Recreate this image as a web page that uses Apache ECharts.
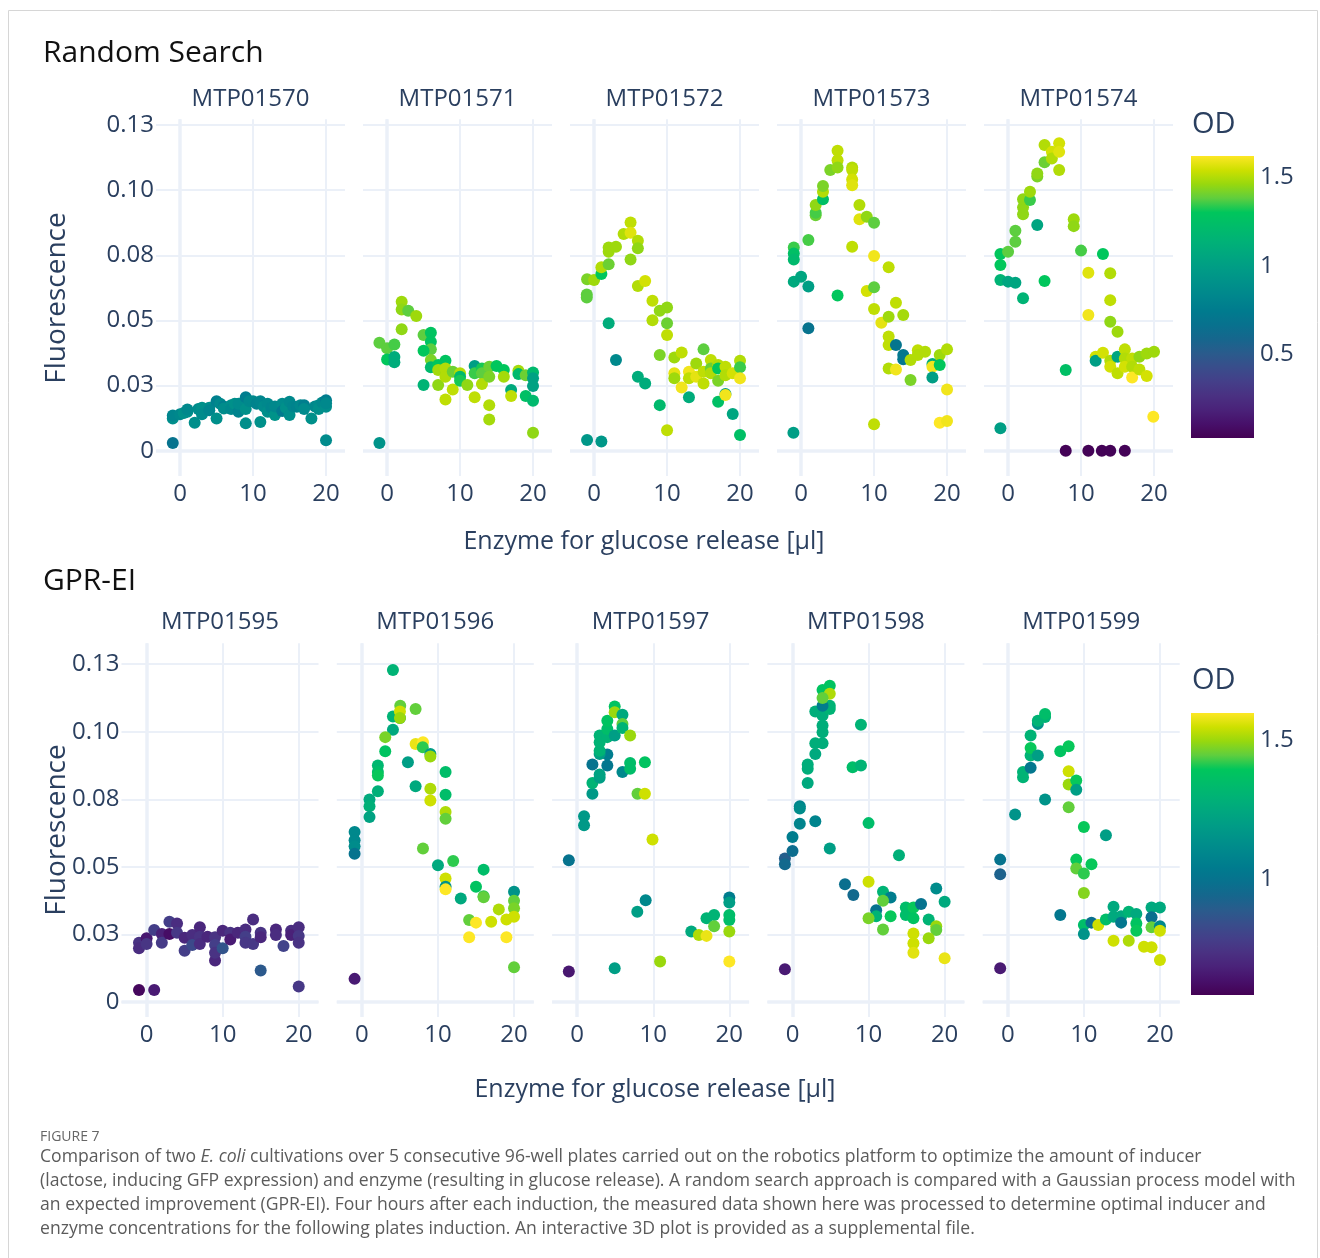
<!DOCTYPE html>
<html>
<head>
<meta charset="utf-8">
<title>Random Search vs GPR-EI</title>
<script src="https://cdn.jsdelivr.net/npm/echarts/dist/echarts.min.js"></script>
<style>
  html, body { margin: 0; padding: 0; background: #ffffff; }
  #chart { width: 1320px; height: 1258px; }
</style>
</head>
<body>
<div id="chart"></div>
<script>
// ---- tick labels and plate names ----
const rsPlates = ['MTP01570', 'MTP01571', 'MTP01572', 'MTP01573', 'MTP01574'];
const gpPlates = ['MTP01595', 'MTP01596', 'MTP01597', 'MTP01598', 'MTP01599'];
const xTickValues = [0, 10, 20];
const yTickValues = [0, 0.025, 0.05, 0.075, 0.1, 0.125];
const yTickLabels = ['0', '0.03', '0.05', '0.08', '0.10', '0.13'];
const odTicksRS = [0.5, 1, 1.5];
const odTicksGP = [1, 1.5];

// ---- measurements: [enzyme µl, fluorescence, OD] ----
const mtp01570 = [
  [-1, 0.003, 0.68], [20, 0.004, 0.86],
  [-1, 0.0124, 0.88], [-1, 0.0135, 0.82], [0, 0.014, 0.84], [0.5, 0.0145, 0.9], [1, 0.015, 0.89], [1, 0.0158, 0.84],
  [2, 0.0107, 0.88], [2.5, 0.016, 0.86], [3, 0.0165, 0.9], [3, 0.014, 0.86], [4, 0.0165, 0.88], [4, 0.0155, 0.82],
  [5, 0.019, 0.78], [5, 0.0124, 0.89], [5.5, 0.018, 0.84], [6, 0.017, 0.77], [6, 0.0162, 0.87], [7, 0.0175, 0.88],
  [7, 0.016, 0.84], [7.5, 0.018, 0.9], [8, 0.015, 0.8], [8, 0.018, 0.86], [9, 0.0205, 0.76], [9, 0.016, 0.9],
  [9, 0.0105, 0.88], [9.5, 0.019, 0.84], [10, 0.019, 0.84], [10.5, 0.018, 0.8], [11, 0.019, 0.82], [11, 0.011, 0.9],
  [11.5, 0.017, 0.86], [12, 0.018, 0.84], [12, 0.015, 0.88], [12.5, 0.0165, 0.82], [13, 0.0137, 0.92], [13, 0.017, 0.84],
  [14, 0.018, 0.86], [14, 0.0152, 0.74], [14.5, 0.0165, 0.9], [15, 0.0188, 0.84], [15, 0.0137, 0.88], [15.5, 0.017, 0.82],
  [16, 0.0169, 0.8], [16.5, 0.0175, 0.84], [17, 0.0175, 0.77], [17, 0.016, 0.86], [18, 0.0124, 0.9], [18.5, 0.017, 0.84],
  [19, 0.0175, 0.86], [19, 0.016, 0.89], [19.5, 0.0185, 0.84], [20, 0.0194, 0.75], [20, 0.0169, 0.88], [20, 0.0182, 0.84]
];
const mtp01571 = [
  [-1.05, 0.003, 0.92],
  [2, 0.0572, 1.47], [2, 0.0542, 1.45], [2.9, 0.0537, 1.38], [4, 0.0517, 1.47], [2, 0.0466, 1.45],
  [-1.05, 0.0414, 1.38], [0, 0.0393, 1.38], [1, 0.0408, 1.36], [0, 0.035, 1.3], [1, 0.036, 1.1], [1, 0.034, 1.1],
  [5, 0.0444, 1.38], [6, 0.0453, 1.28], [6, 0.0418, 1.28], [6, 0.0389, 1.38], [5, 0.0384, 1.3], [6, 0.0348, 1.42],
  [6, 0.032, 1.2], [5, 0.0252, 1.15], [7, 0.0329, 1.3], [7, 0.031, 1.48], [7, 0.0252, 1.45], [8, 0.0345, 1.28],
  [8, 0.0316, 1.5], [8, 0.0284, 1.5], [8, 0.0197, 1.52], [9, 0.0303, 1.4], [9, 0.0235, 1.52], [10, 0.0297, 1.5],
  [10, 0.0284, 1.2], [10, 0.0269, 1.32], [11, 0.0252, 1.45], [12, 0.0325, 1.0], [12, 0.0297, 1.35], [12, 0.0205, 1.52],
  [13, 0.0316, 1.32], [13, 0.0297, 1.38], [13, 0.0256, 1.5], [14, 0.0322, 1.4], [14, 0.0284, 1.42], [14, 0.0175, 1.5],
  [14, 0.012, 1.48], [15, 0.0325, 1.3], [16, 0.031, 1.3], [16, 0.0284, 1.48], [17, 0.0233, 1.08], [17, 0.021, 1.52],
  [18, 0.0307, 1.48], [18, 0.0294, 1.2], [19, 0.029, 1.4], [19, 0.021, 1.25], [20, 0.03, 1.2], [20, 0.0278, 1.02],
  [20, 0.0248, 1.02], [20, 0.0192, 1.2], [20, 0.0069, 1.45]
];
const mtp01572 = [
  [-0.96, 0.0041, 0.95], [1, 0.0035, 0.95], [2, 0.0489, 1.1], [3, 0.0348, 0.85], [6, 0.0284, 1.1], [7, 0.0258, 1.1],
  [9, 0.0175, 1.2], [10, 0.0079, 1.52],
  [-0.96, 0.0658, 1.42], [-1, 0.06, 1.38], [-1, 0.0588, 1.38], [0, 0.0655, 1.47], [1, 0.0678, 1.3], [1, 0.0704, 1.5],
  [2, 0.0716, 1.4], [2, 0.0764, 1.47], [2, 0.078, 1.47], [3, 0.0783, 1.47], [4.05, 0.0832, 1.5], [5, 0.0876, 1.52],
  [5, 0.0837, 1.57], [6, 0.0806, 1.5], [6, 0.0777, 1.45], [5, 0.0734, 1.45], [6, 0.0632, 1.5], [7, 0.0651, 1.55],
  [8, 0.0576, 1.52], [8, 0.0501, 1.5], [9, 0.0537, 1.45], [10, 0.055, 1.45], [10, 0.0489, 1.4], [10, 0.0444, 1.52],
  [9, 0.0367, 1.42], [11, 0.0358, 1.47], [12, 0.0377, 1.52], [11, 0.0297, 1.58], [11, 0.0278, 1.47], [12, 0.0243, 1.6],
  [13, 0.0303, 1.6], [13, 0.0278, 1.52], [13, 0.0205, 1.1], [14, 0.0335, 1.47], [14, 0.0284, 1.58], [15, 0.0389, 1.38],
  [15, 0.0303, 1.52], [15, 0.0258, 1.52], [16, 0.0348, 1.52], [16, 0.0316, 1.4], [16, 0.0297, 1.5], [17, 0.0329, 1.5],
  [17, 0.0316, 1.3], [17, 0.0269, 1.42], [17, 0.0188, 1.25], [18, 0.0322, 1.52], [18, 0.029, 1.5], [18, 0.0218, 1.0],
  [18, 0.0214, 1.6], [19, 0.0297, 1.55], [19, 0.0141, 1.05], [20, 0.0345, 1.5], [20, 0.032, 1.35], [20, 0.0278, 1.6],
  [20, 0.006, 1.25]
];
const mtp01573 = [
  [-1.05, 0.0069, 1.0], [1, 0.047, 0.68], [-1, 0.0649, 1.08], [0, 0.0668, 1.05], [1, 0.063, 1.0],
  [-1, 0.078, 1.35], [-1, 0.0757, 1.25], [-1, 0.0734, 1.2], [1, 0.0809, 1.36], [2, 0.0904, 1.4], [2, 0.0913, 1.36],
  [2, 0.0943, 1.45], [3, 0.0965, 1.25], [3, 0.0994, 1.5], [3, 0.1016, 1.42], [4, 0.1077, 1.42], [5, 0.1151, 1.52],
  [5, 0.1115, 1.52], [5, 0.1087, 1.45], [7, 0.1087, 1.5], [7, 0.1077, 1.52], [7, 0.1041, 1.55], [7, 0.1019, 1.57],
  [8, 0.0943, 1.5], [8, 0.0888, 1.57], [9, 0.0898, 1.45], [10, 0.0875, 1.38], [7, 0.0783, 1.52], [5, 0.0596, 1.3],
  [10, 0.0747, 1.6], [12, 0.0704, 1.52], [9, 0.0613, 1.55], [10, 0.0627, 1.38], [10, 0.0544, 1.52], [11, 0.0491, 1.58],
  [12, 0.0514, 1.47], [13, 0.0568, 1.52], [14, 0.0521, 1.48], [12, 0.0438, 1.52], [12, 0.0406, 1.52], [13, 0.0406, 0.7],
  [14, 0.0367, 0.72], [14, 0.0351, 0.72], [15, 0.0348, 1.5], [16, 0.0386, 1.52], [16, 0.0367, 1.5], [17, 0.038, 1.5],
  [12, 0.0316, 1.5], [13, 0.0312, 1.6], [15, 0.0271, 1.42], [18, 0.0333, 1.1], [18, 0.0322, 1.6], [19, 0.0367, 1.47],
  [19, 0.0329, 1.3], [18, 0.0281, 1.0], [20, 0.0389, 1.5], [20, 0.0235, 1.6], [19, 0.0107, 1.62], [20, 0.0114, 1.6],
  [10, 0.0102, 1.52]
];
const mtp01574 = [
  [-1.05, 0.0086, 1.0], [7.9, 0, 0.04], [11, 0, 0.04], [12.85, 0, 0.04], [14, 0, 0.04], [16, 0, 0.04],
  [19.9, 0.013, 1.62], [7.9, 0.031, 1.25],
  [-1.05, 0.0655, 1.15], [0, 0.0649, 1.05], [1, 0.0645, 1.05], [2.05, 0.0585, 1.15], [5, 0.0651, 1.3], [4, 0.0866, 1.05],
  [-1.05, 0.0755, 1.3], [-1.05, 0.0713, 1.3], [0, 0.0764, 1.38], [1, 0.0802, 1.38], [1, 0.0844, 1.38], [2.05, 0.0908, 1.45],
  [2.05, 0.0934, 1.45], [2.05, 0.0965, 1.45], [3, 0.0962, 1.35], [3, 0.0994, 1.47], [4, 0.1052, 1.42], [4, 0.1064, 1.45],
  [5, 0.1107, 1.4], [5, 0.1173, 1.5], [6, 0.1147, 1.55], [6, 0.1122, 1.5], [7, 0.118, 1.55], [7, 0.1147, 1.57],
  [7, 0.1077, 1.5], [9, 0.0888, 1.47], [9, 0.0862, 1.45], [10, 0.0768, 1.36], [13, 0.0755, 1.3], [11, 0.0683, 1.57],
  [14, 0.0681, 1.5], [14, 0.0578, 1.52], [11, 0.0521, 1.6], [14, 0.0495, 1.45], [15, 0.0457, 1.47], [12, 0.0361, 1.55],
  [12, 0.0345, 1.0], [13, 0.0376, 1.55], [14, 0.0345, 1.5], [14, 0.0322, 1.55], [15, 0.0361, 1.05], [15, 0.0297, 1.52],
  [16, 0.0389, 1.52], [16, 0.0354, 1.5], [16, 0.0322, 1.55], [17, 0.0354, 1.52], [17, 0.0322, 1.5], [17, 0.0281, 1.62],
  [18, 0.0361, 1.45], [18, 0.0312, 1.52], [19, 0.0373, 1.47], [19, 0.0287, 1.55], [20, 0.038, 1.47]
];
const mtp01595 = [
  [-1, 0.0045, 0.6], [1, 0.0045, 0.66], [20, 0.0058, 0.76], [15, 0.0117, 0.88], [9, 0.0154, 0.7],
  [-1, 0.022, 0.74], [-1, 0.0199, 0.72], [0, 0.0236, 0.65], [0, 0.0215, 0.75], [1, 0.0267, 0.78], [2, 0.0252, 0.68],
  [2, 0.022, 0.77], [3, 0.0297, 0.78], [3, 0.0252, 0.62], [4, 0.0291, 0.72], [4, 0.0257, 0.76], [5, 0.0238, 0.7],
  [5, 0.019, 0.78], [6, 0.0248, 0.72], [6, 0.0211, 0.82], [7, 0.0277, 0.7], [7, 0.0242, 0.74], [7, 0.0215, 0.72],
  [8, 0.0242, 0.7], [9, 0.024, 0.74], [9, 0.0211, 0.78], [9, 0.0183, 0.74], [10, 0.0264, 0.7], [10, 0.0199, 0.86],
  [11, 0.0257, 0.74], [11, 0.0232, 0.66], [12, 0.0257, 0.7], [13, 0.0269, 0.72], [13, 0.0242, 0.78], [13, 0.022, 0.76],
  [14, 0.0306, 0.72], [14, 0.0215, 0.76], [15, 0.0257, 0.74], [15, 0.024, 0.7], [17, 0.0269, 0.7], [17, 0.0248, 0.72],
  [18, 0.0208, 0.8], [19, 0.0264, 0.72], [19, 0.0248, 0.68], [20, 0.0277, 0.72], [20, 0.0245, 0.76], [20, 0.022, 0.74]
];
const mtp01596 = [
  [-0.96, 0.0086, 0.66], [4.08, 0.1228, 1.3], [4.08, 0.1056, 1.3], [5, 0.1051, 1.2], [5.04, 0.1096, 1.45],
  [5, 0.1075, 1.55], [5, 0.1051, 1.5], [7.06, 0.1084, 1.45], [4.08, 0.1007, 1.25], [3.07, 0.098, 1.47],
  [3.07, 0.0928, 1.38], [2.1, 0.0875, 1.32], [2.1, 0.0851, 1.35], [2.1, 0.0838, 1.4], [2.1, 0.078, 1.28],
  [1, 0.0749, 1.25], [1, 0.0724, 1.28], [1, 0.0685, 1.22], [-0.96, 0.0629, 1.1], [-0.96, 0.0599, 1.1],
  [-0.96, 0.0576, 1.12], [-0.96, 0.0549, 1.0], [6.05, 0.0887, 1.2], [7.06, 0.0955, 1.58], [8.03, 0.0961, 1.6],
  [8, 0.0943, 1.42], [9, 0.0918, 1.2], [9, 0.0908, 1.5], [7.06, 0.0798, 1.25], [9, 0.0789, 1.52], [9, 0.0746, 1.55],
  [11, 0.0851, 1.35], [11, 0.0767, 1.35], [11, 0.0703, 1.52], [11, 0.0678, 1.45], [8.03, 0.0568, 1.45], [10, 0.0506, 1.25],
  [12, 0.0522, 1.42], [11, 0.0457, 1.55], [11, 0.0427, 1.15], [11, 0.0417, 1.6], [13, 0.0383, 1.25], [15, 0.0427, 1.38],
  [16, 0.049, 1.35], [16, 0.0392, 1.42], [16, 0.0388, 1.45], [14.1, 0.0304, 1.45], [15, 0.0294, 1.6], [14.1, 0.024, 1.6],
  [17, 0.0297, 1.55], [18, 0.0343, 1.52], [19, 0.0306, 1.55], [19, 0.024, 1.6], [20, 0.0408, 1.15], [20, 0.0375, 1.45],
  [20, 0.0347, 1.47], [20, 0.0316, 1.55], [20, 0.0129, 1.45]
];
const mtp01597 = [
  [-1.1, 0.0113, 0.65], [-1.1, 0.0525, 1.0], [4.93, 0.0125, 1.2], [10.9, 0.015, 1.5], [20, 0.015, 1.6],
  [7.9, 0.0334, 1.2], [9, 0.0377, 1.1], [0.9, 0.0687, 1.18], [0.9, 0.0654, 1.18], [2, 0.0771, 1.18], [2, 0.081, 1.3],
  [2.95, 0.083, 1.2], [2.95, 0.0842, 1.22], [2, 0.0879, 1.0], [3.96, 0.0875, 1.02], [3.96, 0.0916, 1.05],
  [2.95, 0.0918, 1.2], [2.95, 0.093, 1.3], [2.95, 0.0961, 1.3], [2.95, 0.0986, 1.3], [3.96, 0.098, 1.3],
  [3.96, 0.101, 1.35], [3.96, 0.1041, 1.38], [4.93, 0.1093, 1.38], [4.93, 0.1072, 1.5], [4.93, 0.0986, 1.2],
  [5.95, 0.1063, 1.25], [5.95, 0.1029, 1.45], [5.95, 0.1014, 1.3], [5.95, 0.0851, 1.1], [6.96, 0.0986, 1.5],
  [6.96, 0.0884, 1.35], [6.96, 0.0863, 1.35], [8.9, 0.0887, 1.38], [7.93, 0.0771, 1.45], [8.9, 0.0771, 1.55],
  [9.9, 0.0601, 1.55], [15, 0.0261, 1.25], [16, 0.0248, 1.52], [17, 0.0245, 1.58], [17, 0.031, 1.3], [18, 0.0322, 1.3],
  [18, 0.0281, 1.45], [20, 0.0387, 1.05], [20, 0.0368, 1.2], [20, 0.0322, 1.35], [20, 0.0304, 1.35], [20, 0.0261, 1.5]
];
const mtp01598 = [
  [-1, 0.0122, 0.66], [-1, 0.0531, 0.9], [-1, 0.051, 0.95], [0, 0.0559, 0.97], [0, 0.0611, 1.05], [0.96, 0.066, 1.08],
  [0.96, 0.0724, 1.08], [0.96, 0.0716, 1.12], [3, 0.0669, 1.08], [4.9, 0.0568, 1.2], [2, 0.081, 1.25], [2, 0.0863, 1.27],
  [2, 0.0879, 1.27], [3, 0.0918, 1.25], [3, 0.0957, 1.27], [3.95, 0.0957, 1.27], [3.95, 0.0998, 1.27], [3.95, 0.1023, 1.27],
  [3.95, 0.106, 1.27], [3, 0.1075, 1.27], [4.9, 0.1096, 1.3], [4.9, 0.1084, 1.3], [3.95, 0.1096, 1.05], [3.95, 0.1154, 1.38],
  [4.9, 0.117, 1.38], [4.9, 0.114, 1.52], [3.95, 0.1125, 1.45], [9, 0.1026, 1.3], [7.9, 0.0869, 1.35], [9, 0.0875, 1.3],
  [10, 0.0662, 1.35], [14, 0.0543, 1.28], [6.9, 0.0436, 0.98], [8, 0.0396, 0.95], [10, 0.0445, 1.55], [11.9, 0.0408, 1.3],
  [12.9, 0.0387, 1.05], [11.9, 0.0375, 1.45], [11, 0.034, 1.0], [11, 0.0318, 1.3], [10, 0.031, 1.47], [11.9, 0.0269, 1.45],
  [12.9, 0.0318, 1.4], [14.9, 0.035, 1.35], [14.9, 0.0322, 1.35], [15.9, 0.035, 1.4], [15.9, 0.031, 1.38], [16.9, 0.0363, 1.0],
  [17.9, 0.0306, 1.3], [18.9, 0.042, 1.12], [18.9, 0.0281, 1.5], [18.9, 0.0267, 1.45], [17.9, 0.0236, 1.5],
  [15.9, 0.0254, 1.55], [15.9, 0.0218, 1.55], [15.9, 0.0183, 1.57], [20, 0.0371, 1.25], [20, 0.0162, 1.58]
];
const mtp01599 = [
  [-1, 0.0125, 0.66], [-1, 0.0527, 1.0], [-1, 0.0473, 0.92], [0.96, 0.0694, 1.15], [4.9, 0.0749, 1.15], [6.9, 0.0322, 1.02],
  [2, 0.0832, 1.3], [2, 0.0851, 1.3], [3, 0.0867, 1.02], [3, 0.0912, 1.3], [3, 0.094, 1.4], [3, 0.0986, 1.3],
  [3.95, 0.0912, 1.2], [3.95, 0.1029, 1.15], [3.95, 0.1041, 1.3], [4.9, 0.1054, 1.3], [4.9, 0.1066, 1.35],
  [6.9, 0.0928, 1.38], [8, 0.0946, 1.4], [8, 0.0854, 1.55], [8, 0.0805, 1.5], [9, 0.082, 1.4], [9, 0.0785, 1.2],
  [8, 0.0721, 1.45], [10, 0.0648, 1.4], [12.9, 0.0617, 1.2], [9, 0.0527, 1.4], [9, 0.0494, 1.45], [11, 0.051, 1.4],
  [10, 0.0476, 1.42], [10, 0.0404, 1.48], [10, 0.0285, 1.35], [10, 0.0252, 1.15], [11, 0.0294, 0.98], [11.9, 0.0285, 1.55],
  [12.9, 0.0306, 1.35], [13.9, 0.0353, 1.25], [13.9, 0.0316, 1.25], [13.9, 0.0227, 1.55], [14.9, 0.0318, 1.25],
  [14.9, 0.0294, 1.02], [15.9, 0.0334, 1.3], [15.9, 0.0227, 1.52], [16.9, 0.0326, 1.25], [16.9, 0.0291, 1.38],
  [16.9, 0.0264, 1.4], [17.9, 0.0205, 1.55], [18.9, 0.035, 1.25], [18.9, 0.0314, 0.98], [18.9, 0.0277, 1.45],
  [18.9, 0.0203, 1.55], [20, 0.035, 1.25], [20, 0.0281, 1.1], [20, 0.0264, 1.55], [20, 0.0156, 1.55]
];

// ---- colour scale for OD (viridis-like) ----
const odColors = ['#440154', '#47106a', '#4a2279', '#4a3182', '#443f89', '#394d8b', '#2a5b8c', '#16668d',
  '#08718e', '#007b8e', '#00868d', '#00918a', '#009c86', '#00a77f', '#00b276', '#00bc6a', '#00c65c',
  '#5fce3e', '#98d80e', '#cde000', '#fde725'];

// ---- layout ----
const FONT = "'Open Sans', 'Noto Sans', sans-serif";
const INK = '#2a3f5f';
const GRID_COLOR = '#EBF0F8';
const X_MIN = -3.3, X_MAX = 22.6;
const TICK_SIZE = 24;

const rows = [
  {
    heading: 'Random Search', headingY: 53, plates: rsPlates,
    data: [mtp01570, mtp01571, mtp01572, mtp01573, mtp01574],
    lefts: [156, 363, 570, 777, 984], width: 189, top: 119.3, height: 356.7,
    yMin: -0.0097, yMax: 0.1272, plateTitleY: 99,
    odMin: 0.03, odMax: 1.62, odTicks: odTicksRS, barTop: 156, odTitleY: 125,
    xTitleX: 644, xTitleY: 542, yTitleY: 298
  },
  {
    heading: 'GPR-EI', headingY: 581, plates: gpPlates,
    data: [mtp01595, mtp01596, mtp01597, mtp01598, mtp01599],
    lefts: [121.5, 336.8, 552.1, 767.4, 982.7], width: 197, top: 643.3, height: 373.7,
    yMin: -0.0055, yMax: 0.1327, plateTitleY: 622,
    odMin: 0.58, odMax: 1.60, odTicks: odTicksGP, barTop: 713, odTitleY: 681,
    xTitleX: 655, xTitleY: 1090, yTitleY: 830
  }
];

function yLabel(v) {
  const i = yTickValues.findIndex(t => Math.abs(t - v) < 1e-9);
  return i >= 0 ? yTickLabels[i] : '';
}

const option = {
  animation: false,
  backgroundColor: '#ffffff',
  textStyle: { fontFamily: FONT },
  grid: [], xAxis: [], yAxis: [], series: [], visualMap: [], graphic: []
};

// outer frame
option.graphic.push({
  type: 'rect', silent: true,
  shape: { x: 8.5, y: 10.5, width: 1309, height: 1270 },
  style: { fill: 'none', stroke: '#d6d6d6', lineWidth: 1 }
});

rows.forEach((row, r) => {
  const seriesIdx = [];
  row.plates.forEach((plate, p) => {
    const gi = option.grid.length;
    option.grid.push({ left: row.lefts[p], top: row.top, width: row.width, height: row.height });
    option.xAxis.push({
      type: 'value', gridIndex: gi, min: X_MIN, max: X_MAX,
      axisLine: { show: false },
      axisTick: { show: false, customValues: xTickValues },
      axisLabel: { customValues: xTickValues, color: INK, fontSize: TICK_SIZE, fontFamily: FONT, margin: 6 },
      splitLine: { show: true, lineStyle: { color: GRID_COLOR, width: 2 } }
    });
    option.yAxis.push({
      type: 'value', gridIndex: gi, min: row.yMin, max: row.yMax,
      axisLine: { show: false },
      axisTick: { show: false, customValues: yTickValues },
      axisLabel: {
        show: p === 0, customValues: yTickValues, formatter: yLabel,
        color: INK, fontSize: TICK_SIZE, fontFamily: FONT, margin: 2
      },
      splitLine: { show: true, lineStyle: { color: GRID_COLOR, width: 2 } }
    });
    seriesIdx.push(option.series.length);
    option.series.push({
      name: plate, type: 'scatter', xAxisIndex: gi, yAxisIndex: gi,
      data: row.data[p], symbolSize: 12,
      itemStyle: { opacity: 1 },
      markLine: {
        silent: true, symbol: 'none', z: 1, animation: false,
        label: { show: false },
        lineStyle: { color: GRID_COLOR, width: 3.5, type: 'solid' },
        data: [{ xAxis: 0 }, { yAxis: 0 }]
      }
    });
    // plate title
    option.graphic.push({
      type: 'text', silent: true,
      style: {
        text: plate, x: row.lefts[p] + row.width / 2, y: row.plateTitleY,
        textAlign: 'center', textVerticalAlign: 'middle',
        font: '24px ' + FONT, fill: INK
      }
    });
  });

  // colour mapping for this row
  option.visualMap.push({
    type: 'continuous', show: false, dimension: 2, seriesIndex: seriesIdx,
    min: row.odMin, max: row.odMax, inRange: { color: odColors }
  });

  // colour bar: gradient + value axis for its ticks
  const cg = option.grid.length;
  option.grid.push({ left: 1191, top: row.barTop, width: 63, height: 282 });
  option.xAxis.push({ type: 'value', gridIndex: cg, show: false, min: 0, max: 1 });
  option.yAxis.push({
    type: 'value', gridIndex: cg, position: 'right', min: row.odMin, max: row.odMax,
    axisLine: { show: false },
    axisTick: { show: false, customValues: row.odTicks },
    axisLabel: { customValues: row.odTicks, color: INK, fontSize: TICK_SIZE, fontFamily: FONT, margin: 6 },
    splitLine: { show: false }
  });
  option.graphic.push({
    type: 'rect', silent: true,
    shape: { x: 1191, y: row.barTop, width: 63, height: 282 },
    style: {
      fill: {
        type: 'linear', x: 0, y: 0, x2: 0, y2: 1,
        colorStops: odColors.slice().reverse().map((c, i, a) => ({ offset: i / (a.length - 1), color: c }))
      }
    }
  });
  option.graphic.push({
    type: 'text', silent: true,
    style: { text: 'OD', x: 1192, y: row.odTitleY, textVerticalAlign: 'middle', font: '29px ' + FONT, fill: INK }
  });

  // section heading and axis titles
  option.graphic.push({
    type: 'text', silent: true,
    style: { text: row.heading, x: 43, y: row.headingY, textVerticalAlign: 'middle', font: '30px ' + FONT, fill: '#111111' }
  });
  option.graphic.push({
    type: 'text', silent: true,
    style: {
      text: 'Enzyme for glucose release [µl]', x: row.xTitleX, y: row.xTitleY,
      textAlign: 'center', textVerticalAlign: 'middle', font: '25px ' + FONT, fill: INK
    }
  });
  option.graphic.push({
    type: 'text', silent: true, x: 57, y: row.yTitleY, rotation: Math.PI / 2,
    style: {
      text: 'Fluorescence', x: 0, y: 0,
      textAlign: 'center', textVerticalAlign: 'middle', font: '28px ' + FONT, fill: INK
    }
  });
});

// figure caption
const CAP = '#5b5b5b';
const capFont = 17.6;
option.graphic.push({
  type: 'text', silent: true,
  style: { text: 'FIGURE 7', x: 40, y: 1137, textVerticalAlign: 'middle', font: '14px ' + FONT, fill: '#666666' }
});
const captionLines = [
  'Comparison of two {i|E. coli} cultivations over 5 consecutive 96-well plates carried out on the robotics platform to optimize the amount of inducer',
  '(lactose, inducing GFP expression) and enzyme (resulting in glucose release). A random search approach is compared with a Gaussian process model with',
  'an expected improvement (GPR-EI). Four hours after each induction, the measured data shown here was processed to determine optimal inducer and',
  'enzyme concentrations for the following plates induction. An interactive 3D plot is provided as a supplemental file.'
];
captionLines.forEach((line, k) => {
  option.graphic.push({
    type: 'text', silent: true,
    style: {
      text: line, x: 40, y: 1157 + k * 24, textVerticalAlign: 'middle',
      fontSize: capFont, fontFamily: FONT, fill: CAP,
      rich: { i: { fontStyle: 'italic', fontSize: capFont, fontFamily: FONT, fill: CAP } }
    }
  });
});

const chart = echarts.init(document.getElementById('chart'), null, { renderer: 'canvas' });
chart.setOption(option);
</script>
</body>
</html>
